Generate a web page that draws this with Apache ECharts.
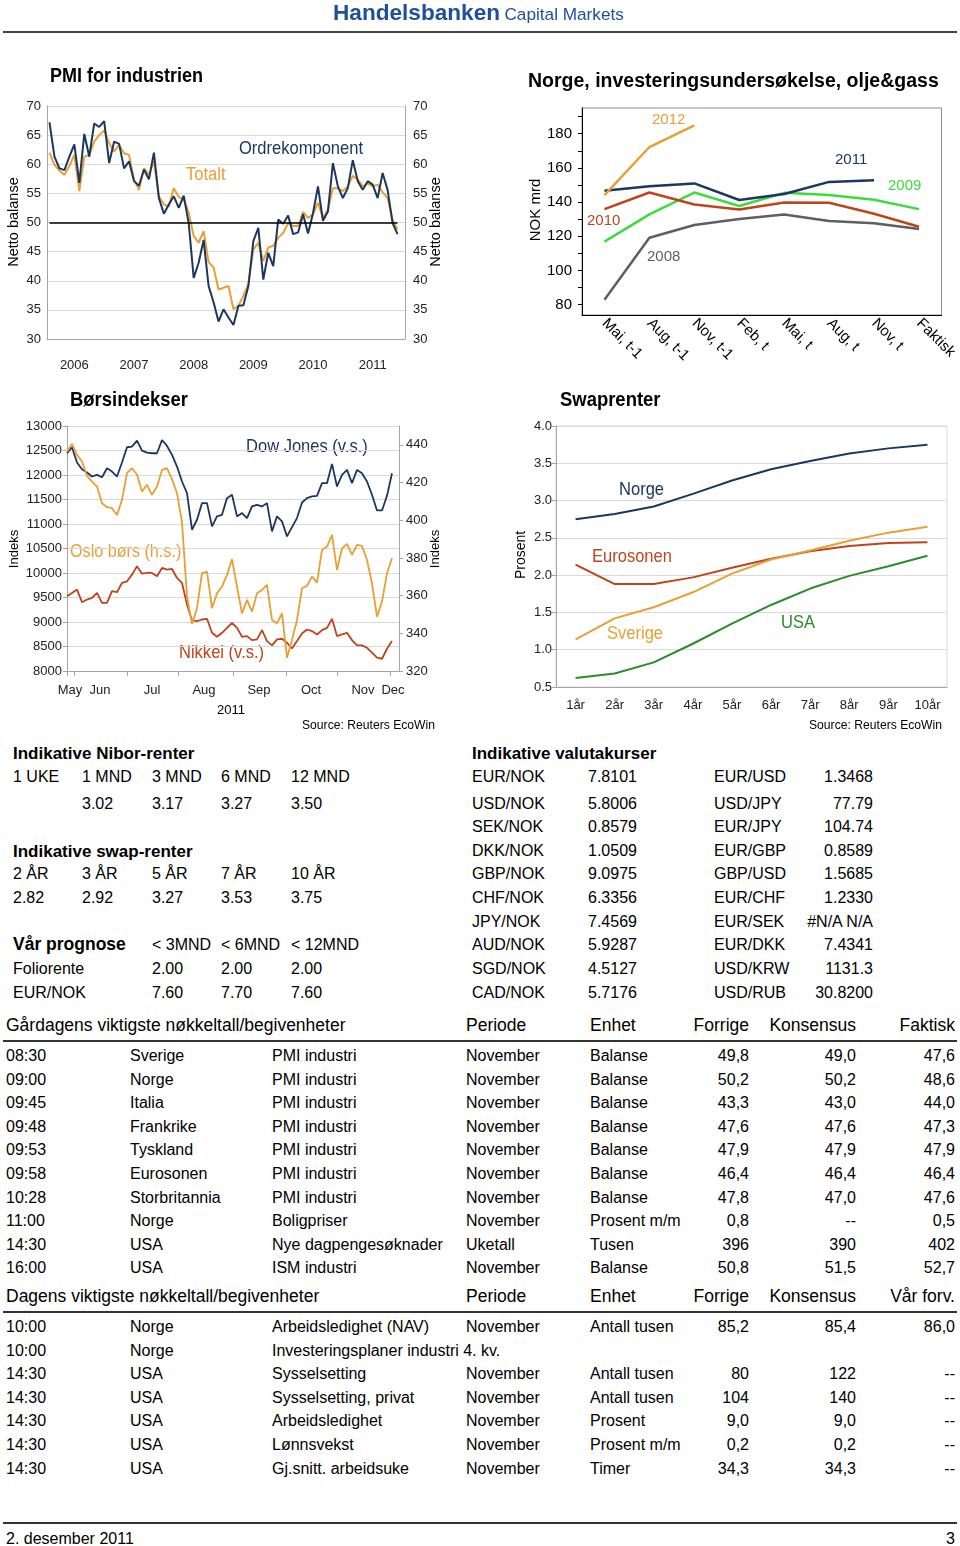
<!DOCTYPE html>
<html>
<head>
<meta charset="utf-8">
<script src="https://cdn.jsdelivr.net/npm/echarts@6/dist/echarts.min.js"></script>
<style>
html,body{margin:0;padding:0;background:#fff;}
body{width:960px;height:1546px;position:relative;overflow:hidden;font-family:'Liberation Sans',Arial,sans-serif;color:#000;}
#chart{position:absolute;left:0;top:0;width:960px;height:740px;}
.t{position:absolute;white-space:nowrap;line-height:1;transform:translateY(-50%);}
.ln{position:absolute;background:#333;}
#hdr{z-index:5;}
</style>
</head>
<body>
<div id="chart"></div>
<div id="hdr" class="t" style="left:333px;top:13px;color:#1d4f9c;"><b style="font-size:22.6px;">Handelsbanken</b> <span style="font-size:17.2px;">Capital Markets</span></div>
<div class="ln" style="left:3px;top:31px;width:954px;height:2px;background:#444;z-index:5;"></div>
<div id="tables"></div>
<script>
// ---------------- DATA ----------------
// PMI for industrien (monthly, Jan 2006 - Nov 2011)
const pmiYears = ['2006','2007','2008','2009','2010','2011'];
const pmiTotal = [62.0,59.9,58.9,58.2,59.7,61.6,55.4,61.3,61.6,63.9,65.0,65.8,
  63.6,62.2,63.3,61.9,61.6,57.4,55.6,59.3,58.2,60.5,54.5,53.1,
  52.8,55.9,54.4,53.9,51.7,47.7,46.5,48.5,43.2,42.3,38.5,38.8,
  39.1,35.1,35.7,37.4,39.4,45.4,46.5,43.4,45.7,46.0,47.4,48.2,
  49.9,49.4,49.4,51.8,50.8,51.4,53.4,50.8,52.2,55.9,55.9,55.4,
  56.2,58.0,57.4,56.2,56.7,56.2,56.5,55.2,54.2,50.5,48.8];
const pmiOrder = [67.2,61.3,59.3,59.0,61.3,63.4,56.8,65.2,61.3,67.0,66.4,67.4,
  60.2,63.9,63.5,59.3,60.5,57.1,56.3,59.1,57.4,62.0,54.2,51.5,
  53.1,54.5,52.5,54.6,49.9,40.5,43.1,47.0,39.1,36.3,33.0,35.1,
  33.7,32.4,35.7,35.8,39.1,46.8,49.1,40.2,44.8,42.5,50.5,49.8,
  51.2,48.0,48.3,51.4,48.1,51.6,56.2,50.3,51.9,60.2,56.2,54.2,
  55.9,60.7,57.1,55.6,57.1,56.5,54.2,58.5,55.6,49.9,48.0];

// Norge, investeringsundersøkelse, olje&gass (NOK mrd)
const investCats = ['Mai, t-1','Aug, t-1','Nov, t-1','Feb, t','Mai, t','Aug, t','Nov, t','Faktisk'];
const inv2008 = [82.9,119.2,126.6,130.1,132.8,128.9,127.6,124.3];
const inv2009 = [116.9,132.8,145.6,137.7,145.4,144.1,141.4,135.9];
const inv2010 = [135.9,145.6,138.6,135.7,139.8,139.6,133.2,125.6];
const inv2011 = [146.6,149.3,150.9,141.2,144.7,151.8,152.8,null];
const inv2012 = [144.1,172.2,184.9,null,null,null,null,null];

// Børsindekser (every second trading day, late May - 1 Dec 2011)
const dowJones = [12444,12566,12254,12118,12050,11969,12003,11955,12138,12070,
  11969,12254,12566,12579,12701,12498,12457,12444,12444,12715,
  12593,12410,12172,11867,11629,10883,11087,11426,11426,10951,
  11155,11188,11528,11596,11155,11222,11121,11358,11392,11358,
  11426,10849,11155,11053,10747,10937,11121,11439,11528,11562,
  11575,11833,11833,12227,11765,12003,12104,11833,12104,12037,
  11867,11596,11277,11277,11575,12037];
const nikkei = [9526,9594,9662,9404,9458,9492,9594,9390,9390,9628,
  9608,9797,9831,9967,10137,9987,10001,10001,9933,10103,
  10069,10082,9899,9797,9356,9031,9017,9051,9065,8780,
  8698,8780,8881,8983,8881,8698,8712,8630,8644,8834,
  8610,8522,8644,8658,8576,8460,8610,8766,8847,8814,
  8746,8834,8881,9065,8712,8746,8780,8630,8522,8522,
  8474,8373,8271,8250,8454,8610];
const osloBors = [436.5,440.5,434.7,431.2,423.5,420.5,417.9,409.0,406.9,406.4,
  402.8,410.8,425.0,427.6,424.1,415.2,418.8,413.5,417.9,426.7,
  427.6,421.8,414.3,399.0,359.5,345.0,353.3,371.9,372.7,353.3,
  361.2,364.8,371.0,379.3,364.8,350.6,357.7,351.5,361.2,363.0,
  365.7,347.1,345.3,350.6,327.0,336.5,347.1,363.9,365.1,370.1,
  366.9,384.2,386.0,392.2,373.6,385.1,387.4,381.6,386.9,386.4,
  378.9,366.5,348.8,356.8,371.9,379.8];
const borsMonthNames = ['May','Jun','Jul','Aug','Sep','Oct','Nov','Dec'];
const borsMonthStart = [0,1.4,12,22.2,33.2,43.8,54,64.6];   // sample index where each month begins
const borsMonthLabelAt = [0.6,6.6,17,27.4,38.4,48.8,59.2,65.2];

// Swaprenter (Prosent)
const swapCats = ['1år','2år','3år','4år','5år','6år','7år','8år','9år','10år'];
const swapNorge = [2.75,2.82,2.92,3.09,3.27,3.42,3.53,3.63,3.70,3.75];
const swapEuro = [2.14,1.88,1.88,1.97,2.10,2.22,2.32,2.39,2.43,2.44];
const swapSverige = [1.14,1.42,1.57,1.77,2.02,2.21,2.33,2.46,2.57,2.65];
const swapUSA = [0.62,0.68,0.83,1.08,1.35,1.60,1.82,1.99,2.12,2.26];

// Tables
const niborTerms = ['1 UKE','1 MND','3 MND','6 MND','12 MND'];
const niborRates = ['','3.02','3.17','3.27','3.50'];
const swapTerms = ['2 ÅR','3 ÅR','5 ÅR','7 ÅR','10 ÅR'];
const swapRates = ['2.82','2.92','3.27','3.53','3.75'];
const prognoseHorizons = ['< 3MND','< 6MND','< 12MND'];
const prognoseRows = [['Foliorente','2.00','2.00','2.00'],['EUR/NOK','7.60','7.70','7.60']];
const fxRows = [
  ['EUR/NOK','7.8101','EUR/USD','1.3468'],
  ['USD/NOK','5.8006','USD/JPY','77.79'],
  ['SEK/NOK','0.8579','EUR/JPY','104.74'],
  ['DKK/NOK','1.0509','EUR/GBP','0.8589'],
  ['GBP/NOK','9.0975','GBP/USD','1.5685'],
  ['CHF/NOK','6.3356','EUR/CHF','1.2330'],
  ['JPY/NOK','7.4569','EUR/SEK','#N/A N/A'],
  ['AUD/NOK','5.9287','EUR/DKK','7.4341'],
  ['SGD/NOK','4.5127','USD/KRW','1131.3'],
  ['CAD/NOK','5.7176','USD/RUB','30.8200']];
const yesterdayHeader = ['Gårdagens viktigste nøkkeltall/begivenheter','Periode','Enhet','Forrige','Konsensus','Faktisk'];
const yesterdayRows = [
  ['08:30','Sverige','PMI industri','November','Balanse','49,8','49,0','47,6'],
  ['09:00','Norge','PMI industri','November','Balanse','50,2','50,2','48,6'],
  ['09:45','Italia','PMI industri','November','Balanse','43,3','43,0','44,0'],
  ['09:48','Frankrike','PMI industri','November','Balanse','47,6','47,6','47,3'],
  ['09:53','Tyskland','PMI industri','November','Balanse','47,9','47,9','47,9'],
  ['09:58','Eurosonen','PMI industri','November','Balanse','46,4','46,4','46,4'],
  ['10:28','Storbritannia','PMI industri','November','Balanse','47,8','47,0','47,6'],
  ['11:00','Norge','Boligpriser','November','Prosent m/m','0,8','--','0,5'],
  ['14:30','USA','Nye dagpengesøknader','Uketall','Tusen','396','390','402'],
  ['16:00','USA','ISM industri','November','Balanse','50,8','51,5','52,7']];
const todayHeader = ['Dagens viktigste nøkkeltall/begivenheter','Periode','Enhet','Forrige','Konsensus','Vår forv.'];
const todayRows = [
  ['10:00','Norge','Arbeidsledighet (NAV)','November','Antall tusen','85,2','85,4','86,0'],
  ['10:00','Norge','Investeringsplaner industri 4. kv.','','','','',''],
  ['14:30','USA','Sysselsetting','November','Antall tusen','80','122','--'],
  ['14:30','USA','Sysselsetting, privat','November','Antall tusen','104','140','--'],
  ['14:30','USA','Arbeidsledighet','November','Prosent','9,0','9,0','--'],
  ['14:30','USA','Lønnsvekst','November','Prosent m/m','0,2','0,2','--'],
  ['14:30','USA','Gj.snitt. arbeidsuke','November','Timer','34,3','34,3','--']];

// ---------------- CHARTS ----------------
const AR = "'Liberation Sans',Arial,sans-serif";
const COL = {navy:'#1b3760', orange:'#e89f33', red:'#bf441c', green09:'#3cdc3c', green:'#2b8c2b', gray:'#5f5f5f', grid:'#d9d9d9', axis:'#a6a6a6', txt:'#222'};

const pmiMonths = [];
pmiYears.forEach(y => { for (let m = 1; m <= 12; m++) pmiMonths.push(y + '-' + String(m).padStart(2,'0')); });
const idx = a => a.map((v,i) => [i, v]);
const nearest = (arr, v) => { let b = -1; arr.forEach((a,i) => { if (Math.abs(a - v) < 0.05) b = i; }); return b; };

function gtext(text, x, y, o) {
  o = o || {};
  return {type:'text', x:x, y:y, scaleX:o.sx || 1, rotation:o.rot || 0, silent:true,
    style:{text:text, fill:o.color || '#000', align:o.align || 'left', verticalAlign:'middle',
      font:(o.bold ? 'bold ' : '') + (o.size || 14) + 'px ' + AR}};
}

const chart = echarts.init(document.getElementById('chart'), null, {renderer:'canvas'});
const option = {
  animation:false,
  backgroundColor:'transparent',
  grid:[
    {left:47, top:106, width:358, height:233},
    {left:582, top:108, width:360, height:207, show:true, borderColor:'#8c8c8c', borderWidth:1},
    {left:67, top:426, width:332, height:245},
    {left:556, top:426, width:391, height:261, show:true, borderColor:COL.grid, borderWidth:1}
  ],
  xAxis:[
    {gridIndex:0, type:'category', data:pmiMonths, boundaryGap:true,
     axisLine:{lineStyle:{color:COL.axis}},
     axisTick:{interval:(i) => i % 12 === 0, length:5, lineStyle:{color:COL.axis}},
     axisLabel:{interval:(i) => i % 12 === 5, formatter:(v) => v.slice(0,4), margin:20, fontFamily:AR, fontSize:13, color:COL.txt},
     splitLine:{show:false}},
    {gridIndex:1, type:'category', data:investCats, boundaryGap:true,
     axisLine:{lineStyle:{color:'#000'}},
     axisTick:{length:5, lineStyle:{color:'#000'}},
     axisLabel:{rotate:-45, margin:6, fontFamily:AR, fontSize:15, color:'#000', interval:0},
     splitLine:{show:false}},
    {gridIndex:2, type:'value', min:0, max:66.4,
     axisLine:{onZero:false, lineStyle:{color:COL.axis}},
     axisTick:{customValues:borsMonthStart, length:5, lineStyle:{color:COL.axis}},
     axisLabel:{customValues:borsMonthLabelAt, formatter:(v) => borsMonthNames[nearest(borsMonthLabelAt, v)] || '', margin:13, fontFamily:AR, fontSize:13, color:COL.txt},
     splitLine:{show:false}},
    {gridIndex:3, type:'category', data:swapCats, boundaryGap:true,
     axisLine:{lineStyle:{color:COL.axis}},
     axisTick:{alignWithLabel:true, length:4, lineStyle:{color:COL.axis}},
     axisLabel:{margin:12, fontFamily:AR, fontSize:13, color:COL.txt, interval:0},
     splitLine:{show:false}}
  ],
  yAxis:[
    {gridIndex:0, type:'value', min:30, max:70, interval:5,
     axisLine:{show:true, lineStyle:{color:COL.axis}}, axisTick:{show:false},
     axisLabel:{margin:6, fontFamily:AR, fontSize:13, color:COL.txt},
     splitLine:{lineStyle:{color:COL.grid}}},
    {gridIndex:0, type:'value', position:'right', min:30, max:70, interval:5,
     axisLine:{show:true, lineStyle:{color:COL.axis}}, axisTick:{show:false},
     axisLabel:{margin:8, fontFamily:AR, fontSize:13, color:COL.txt},
     splitLine:{show:false}},
    {gridIndex:1, type:'value', min:74, max:195,
     axisLine:{show:true, lineStyle:{color:'#000'}},
     axisTick:{show:true, customValues:[80,90,100,110,120,130,140,150,160,170,180,190], length:4, lineStyle:{color:'#000'}},
     axisLabel:{customValues:[80,100,120,140,160,180], margin:10, fontFamily:AR, fontSize:15, color:'#000'},
     splitLine:{show:false}},
    {gridIndex:2, type:'value', min:8000, max:13000, interval:500,
     axisLine:{show:true, lineStyle:{color:COL.axis}}, axisTick:{show:true, length:4, lineStyle:{color:COL.axis}},
     axisLabel:{margin:5, formatter:(v) => String(v), fontFamily:AR, fontSize:13, color:COL.txt},
     splitLine:{lineStyle:{color:COL.grid}}},
    {gridIndex:2, type:'value', position:'right', min:320, max:450,
     axisLine:{show:true, lineStyle:{color:COL.axis}},
     axisTick:{show:true, customValues:[320,340,360,380,400,420,440], length:4, lineStyle:{color:COL.axis}},
     axisLabel:{customValues:[320,340,360,380,400,420,440], margin:7, fontFamily:AR, fontSize:13, color:COL.txt},
     splitLine:{show:false}},
    {gridIndex:3, type:'value', min:0.5, max:4.0, interval:0.5,
     axisLine:{show:true, lineStyle:{color:COL.axis}}, axisTick:{show:true, length:4, lineStyle:{color:COL.axis}},
     axisLabel:{margin:4, formatter:(v) => v.toFixed(1), fontFamily:AR, fontSize:13, color:COL.txt},
     splitLine:{lineStyle:{color:COL.grid}}}
  ],
  series:[
    {name:'Totalt', type:'line', xAxisIndex:0, yAxisIndex:0, data:pmiTotal, symbol:'none', lineStyle:{color:COL.orange, width:2}, z:3,
     markLine:{silent:true, symbol:'none', label:{show:false},
       lineStyle:{color:'#000', width:1.5, type:'solid'},
       data:[[{coord:[pmiMonths[0], 50]}, {coord:[pmiMonths[pmiTotal.length - 1], 50]}]]}},
    {name:'Ordrekomponent', type:'line', xAxisIndex:0, yAxisIndex:0, data:pmiOrder, symbol:'none', lineStyle:{color:COL.navy, width:2}, z:4},
    {name:'2008', type:'line', xAxisIndex:1, yAxisIndex:2, data:inv2008, symbol:'none', lineStyle:{color:COL.gray, width:2.5}},
    {name:'2009', type:'line', xAxisIndex:1, yAxisIndex:2, data:inv2009, symbol:'none', lineStyle:{color:COL.green09, width:2.5}},
    {name:'2010', type:'line', xAxisIndex:1, yAxisIndex:2, data:inv2010, symbol:'none', lineStyle:{color:COL.red, width:2.5}},
    {name:'2011', type:'line', xAxisIndex:1, yAxisIndex:2, data:inv2011, symbol:'none', lineStyle:{color:COL.navy, width:2.5}},
    {name:'2012', type:'line', xAxisIndex:1, yAxisIndex:2, data:inv2012, symbol:'none', lineStyle:{color:COL.orange, width:2.5}},
    {name:'Dow Jones', type:'line', xAxisIndex:2, yAxisIndex:3, data:idx(dowJones), symbol:'none', lineStyle:{color:COL.navy, width:1.8}},
    {name:'Nikkei', type:'line', xAxisIndex:2, yAxisIndex:3, data:idx(nikkei), symbol:'none', lineStyle:{color:COL.red, width:1.8}},
    {name:'Oslo børs', type:'line', xAxisIndex:2, yAxisIndex:4, data:idx(osloBors), symbol:'none', lineStyle:{color:COL.orange, width:1.8}},
    {name:'Norge', type:'line', xAxisIndex:3, yAxisIndex:5, data:swapNorge, symbol:'none', lineStyle:{color:COL.navy, width:2}},
    {name:'Eurosonen', type:'line', xAxisIndex:3, yAxisIndex:5, data:swapEuro, symbol:'none', lineStyle:{color:COL.red, width:2}},
    {name:'Sverige', type:'line', xAxisIndex:3, yAxisIndex:5, data:swapSverige, symbol:'none', lineStyle:{color:COL.orange, width:2}},
    {name:'USA', type:'line', xAxisIndex:3, yAxisIndex:5, data:swapUSA, symbol:'none', lineStyle:{color:COL.green, width:2}}
  ],
  graphic:[
    gtext('PMI for industrien', 50, 76, {bold:true, size:20, sx:0.9}),
    gtext('Totalt', 186, 175, {size:19, sx:0.87, color:COL.orange}),
    gtext('Ordrekomponent', 239, 149, {size:19, sx:0.87, color:COL.navy}),
    gtext('Netto balanse', 14, 222, {size:14.5, rot:Math.PI/2, align:'center'}),
    gtext('Netto balanse', 436, 222, {size:14.5, rot:Math.PI/2, align:'center'}),
    gtext('Norge, investeringsundersøkelse, olje&gass', 528, 82, {bold:true, size:19.5}),
    gtext('NOK mrd', 536, 210, {size:15, rot:Math.PI/2, align:'center'}),
    gtext('2012', 652, 120, {size:15, color:COL.orange}),
    gtext('2011', 835, 160, {size:15, color:COL.navy}),
    gtext('2009', 888, 186, {size:15, color:COL.green09}),
    gtext('2010', 587, 221, {size:15, color:COL.red}),
    gtext('2008', 647, 257, {size:15, color:COL.gray}),
    gtext('Børsindekser', 70, 400, {bold:true, size:20.5, sx:0.9}),
    gtext('Indeks', 14, 549, {size:13, rot:Math.PI/2, align:'center'}),
    gtext('Indeks', 435, 549, {size:13, rot:Math.PI/2, align:'center'}),
    gtext('Dow Jones (v.s.)', 246, 447, {size:19, sx:0.87, color:COL.navy}),
    gtext('Oslo børs (h.s.)', 70, 552, {size:19, sx:0.85, color:COL.orange}),
    gtext('Nikkei (v.s.)', 179, 653, {size:19, sx:0.87, color:COL.red}),
    gtext('2011', 231, 710, {size:13, align:'center'}),
    gtext('Source: Reuters EcoWin', 302, 725, {size:13.5, sx:0.9}),
    gtext('Swaprenter', 560, 400, {bold:true, size:20.5, sx:0.9}),
    gtext('Prosent', 521, 555, {size:14, rot:Math.PI/2, align:'center'}),
    gtext('Norge', 619, 490, {size:19, sx:0.87, color:COL.navy}),
    gtext('Eurosonen', 592, 557, {size:19, sx:0.87, color:COL.red}),
    gtext('Sverige', 607, 634, {size:19, sx:0.87, color:COL.orange}),
    gtext('USA', 781, 623, {size:19, sx:0.87, color:COL.green}),
    gtext('Source: Reuters EcoWin', 809, 725, {size:13.5, sx:0.9})
  ]
};
chart.setOption(option);

// ---------------- TABLES ----------------
const T = document.getElementById('tables');
function put(text, x, y, o) {
  o = o || {};
  if (text === '' || text == null) return;
  const d = document.createElement('div');
  d.className = 't';
  d.textContent = text;
  d.style.top = y + 'px';
  if (o.right) d.style.right = (960 - x) + 'px'; else d.style.left = x + 'px';
  d.style.fontSize = (o.size || 16) + 'px';
  if (o.bold) d.style.fontWeight = 'bold';
  T.appendChild(d);
}
function hline(x, y, w, h) {
  const d = document.createElement('div');
  d.className = 'ln';
  d.style.left = x + 'px'; d.style.top = y + 'px'; d.style.width = w + 'px'; d.style.height = h + 'px';
  T.appendChild(d);
}
const nCols = [13, 82, 152, 221, 291];
put('Indikative Nibor-renter', 13, 753, {bold:true, size:17});
niborTerms.forEach((s,i) => put(s, nCols[i], 777));
niborRates.forEach((s,i) => put(s, nCols[i], 804));
put('Indikative swap-renter', 13, 851, {bold:true, size:17});
swapTerms.forEach((s,i) => put(s, nCols[i], 874));
swapRates.forEach((s,i) => put(s, nCols[i], 898));
put('Vår prognose', 13, 945, {bold:true, size:17.5});
prognoseHorizons.forEach((s,i) => put(s, nCols[i + 2], 945));
prognoseRows.forEach((r,j) => {
  put(r[0], 13, 969 + j * 24);
  r.slice(1).forEach((s,i) => put(s, nCols[i + 2], 969 + j * 24));
});

put('Indikative valutakurser', 472, 753, {bold:true, size:17});
const fxY = [777, 804, 827, 851, 874, 898, 922, 945, 969, 993];
fxRows.forEach((r,j) => {
  put(r[0], 472, fxY[j]); put(r[1], 588, fxY[j]); put(r[2], 714, fxY[j]); put(r[3], 873, fxY[j], {right:true});
});

const eCols = [6, 130, 272, 466, 590];
const eRight = [749, 856, 955];
function eventTable(header, rows, yHead, yLine) {
  put(header[0], 6, yHead, {size:17.5});
  put(header[1], 466, yHead, {size:17.5});
  put(header[2], 590, yHead, {size:17.5});
  put(header[3], eRight[0], yHead, {size:17.5, right:true});
  put(header[4], eRight[1], yHead, {size:17.5, right:true});
  put(header[5], eRight[2], yHead, {size:17.5, right:true});
  hline(3, yLine, 954, 1.5);
  rows.forEach((r,j) => {
    const y = yLine + 16 + j * 23.6;
    r.slice(0,5).forEach((s,i) => put(s, eCols[i], y));
    r.slice(5).forEach((s,i) => put(s, eRight[i], y, {right:true}));
  });
}
eventTable(yesterdayHeader, yesterdayRows, 1026, 1040);
eventTable(todayHeader, todayRows, 1297, 1311);

hline(3, 1522, 954, 1.5);
put('2. desember 2011', 6, 1539);
put('3', 955, 1539, {right:true});
</script>
</body>
</html>
